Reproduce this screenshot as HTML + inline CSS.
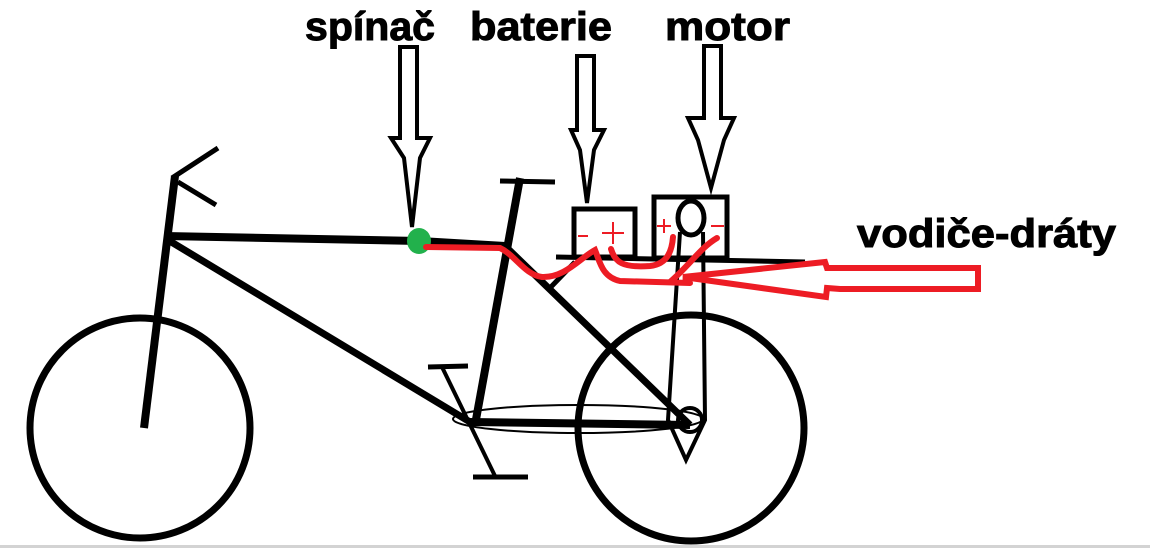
<!DOCTYPE html>
<html><head><meta charset="utf-8"><style>
html,body{margin:0;padding:0;background:#fff;width:1150px;height:548px;overflow:hidden}
svg{display:block}
text{font-family:"Liberation Sans",sans-serif;font-weight:bold;fill:#000;stroke:#000;stroke-width:1}
</style></head><body>
<svg width="1150" height="548" viewBox="0 0 1150 548" xmlns="http://www.w3.org/2000/svg">
<rect x="0" y="545" width="1150" height="3" fill="#d3d3d3"/>
<!-- labels -->
<text x="305" y="40" font-size="40" textLength="130" lengthAdjust="spacingAndGlyphs">spínač</text>
<text x="470" y="40" font-size="40" textLength="142" lengthAdjust="spacingAndGlyphs">baterie</text>
<text x="665" y="40" font-size="40" textLength="125" lengthAdjust="spacingAndGlyphs">motor</text>
<text x="857" y="247" font-size="40" textLength="259" lengthAdjust="spacingAndGlyphs">vodiče-dráty</text>
<g fill="none" stroke="#000" stroke-linejoin="miter">
<!-- hollow arrows -->
<path d="M400,47 H417 V138 H430 L420,158 L412,227 L404,158 L391,138 H400 Z" stroke-width="4"/>
<path d="M577,56 H594 V130 H604 L594,150 L587,203 L580,150 L571,130 H577 Z" stroke-width="4"/>
<path d="M704,46 H721 V118 H734 L724,140 L711,188 L698,140 L688,118 H704 Z" stroke-width="4"/>
<!-- wheels -->
<circle cx="140" cy="428" r="110" stroke-width="7"/>
<circle cx="691" cy="428" r="113" stroke-width="7"/>
<!-- fork & handlebar -->
<path d="M175,176 L144,428" stroke-width="8"/>
<path d="M172,178 L218,148 M178,182 L216,205" stroke-width="5"/>
<!-- top tube -->
<path d="M165,236 L420,241 L505,246" stroke-width="8"/>
<!-- down tube -->
<path d="M168,240 L470,422" stroke-width="7"/>
<!-- seat tube & seat -->
<path d="M520,178 L475,425" stroke-width="8"/>
<path d="M500,181 L555,182" stroke-width="5"/>
<!-- seat stay -->
<path d="M505,246 L690,425" stroke-width="7"/>
<!-- chain stay -->
<path d="M470,422 L690,425" stroke-width="8"/>
<!-- chain -->
<ellipse cx="578" cy="419" rx="125" ry="14" stroke-width="2"/>
<!-- crank & pedals -->
<path d="M442,367 L495,476" stroke-width="4"/>
<path d="M428,367 L468,366 M473,477 L528,477" stroke-width="5"/>
<!-- rack -->
<path d="M556,257 L805,262" stroke-width="5"/>
<path d="M548,290 L575,262" stroke-width="5"/>
<!-- battery & motor boxes -->
<rect x="574" y="209" width="61" height="48" stroke-width="5"/>
<rect x="654" y="197" width="73" height="61" stroke-width="5"/>
<!-- motor belt -->
<ellipse cx="691" cy="218" rx="13" ry="17" stroke-width="5"/>
<path d="M680,232 L668,420 L686,460 L705,420 L703,232" stroke-width="4"/>
<circle cx="690" cy="420" r="12" stroke-width="4"/>
</g>
<!-- green switch -->
<ellipse cx="419" cy="241" rx="12" ry="13" fill="#22b14c"/>
<!-- red wires -->
<g fill="none" stroke="#ed1c24" stroke-width="6" stroke-linecap="round">
<path d="M426,247 L500,248 C515,255 525,275 542,277 C565,278 580,258 595,250 C600,262 602,277 620,281 L690,283"/>
<path d="M611,249 C615,262 622,268 650,266 C668,264 672,250 673,237"/>
<path d="M717,238 C700,248 690,265 670,282"/>
</g>
<path d="M683,277 L825,262 L827,268 H978 V289 H840 L827,288 L826,297 Z" fill="none" stroke="#ed1c24" stroke-width="6" stroke-linejoin="miter"/>
<g stroke="#ed1c24" stroke-width="2" fill="none">
<path d="M613,222 V244 M602,233 H624"/>
<path d="M578,236 H588"/>
<path d="M657,226 H671 M664,219 V233"/>
<path d="M711,226 H724"/>
</g>
</svg>
</body></html>
